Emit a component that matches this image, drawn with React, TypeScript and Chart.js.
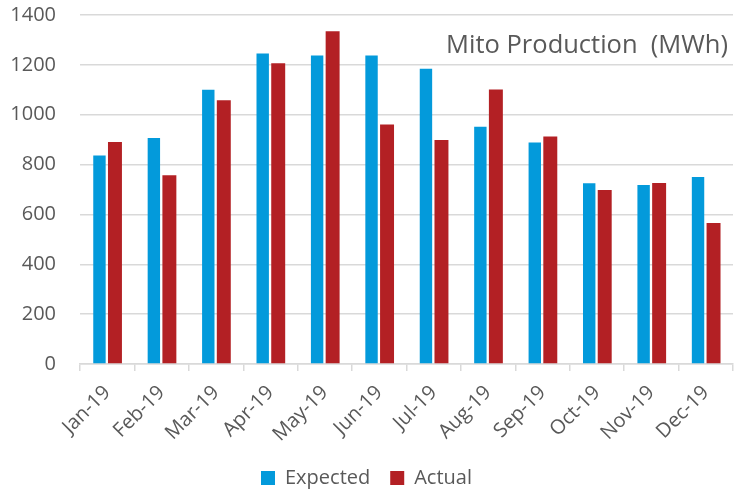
import React, { useEffect, useRef } from "react";
import { Chart, registerables } from "chart.js";

Chart.register(...registerables);

const categories = ["Jan-19", "Feb-19", "Mar-19", "Apr-19", "May-19", "Jun-19", "Jul-19", "Aug-19", "Sep-19", "Oct-19", "Nov-19", "Dec-19"];
const expected = [836, 907, 1100, 1246, 1238, 1238, 1184, 952, 889, 725, 718, 750];
const actual = [891, 757, 1058, 1206, 1335, 961, 899, 1101, 913, 698, 726, 566];
const seriesNames = ["Expected", "Actual"];
const chartTitle = "Mito Production  (MWh)";

const FONT = "'Open Sans', 'DejaVu Sans', sans-serif";
const TEXT = "#595959";
const GRID = "#D9D9D9";

const titlePlugin = {
  id: "insideTitle",
  afterDraw(chart: any) {
    const { ctx, chartArea } = chart;
    ctx.save();
    ctx.font = `25.5px ${FONT}`;
    ctx.fillStyle = TEXT;
    ctx.textAlign = "right";
    ctx.textBaseline = "alphabetic";
    ctx.fillText(chartTitle, chartArea.right - 5, 53);
    ctx.restore();
  },
};

export default function App() {
  const ref = useRef<HTMLCanvasElement>(null);

  useEffect(() => {
    document.body.style.margin = "0";
    const chart = new Chart(ref.current!, {
      type: "bar",
      data: {
        labels: categories,
        datasets: [
          {
            label: seriesNames[0],
            data: expected,
            backgroundColor: "#039ADB",
            categoryPercentage: 0.57,
            barPercentage: 0.8,
          },
          {
            label: seriesNames[1],
            data: actual,
            backgroundColor: "#B32024",
            categoryPercentage: 0.57,
            barPercentage: 0.9,
          },
        ],
      },
      options: {
        responsive: false,
        animation: false,
        devicePixelRatio: 1,
        layout: { padding: { top: 15, right: 1, left: 0, bottom: -8 } },
        plugins: {
          legend: {
            position: "bottom",
            labels: {
              font: { family: FONT, size: 20 },
              color: TEXT,
              boxWidth: 14,
              boxHeight: 14,
              padding: 20,
            },
          },
          tooltip: { enabled: false },
          title: { display: false },
        },
        scales: {
          x: {
            grid: { display: true, drawOnChartArea: false, drawTicks: true, tickLength: 7, color: GRID, lineWidth: 1.5, offset: true },
            border: { display: true, color: GRID, width: 1.5 },
            ticks: {
              font: { family: FONT, size: 20 },
              color: TEXT,
              minRotation: 45,
              maxRotation: 45,
              padding: 10,
            },
            afterFit(scale: any) {
              scale.height = 84;
            },
          },
          y: {
            min: 0,
            max: 1400,
            ticks: {
              stepSize: 200,
              font: { family: FONT, size: 20 },
              color: TEXT,
              padding: 24,
              callback: (v: any) => String(v),
            },
            grid: { color: GRID, lineWidth: 1.5, drawTicks: false },
            border: { display: false },
            afterFit(scale: any) {
              scale.width = 80;
              scale.paddingTop = 0;
              scale.paddingBottom = 0;
            },
          },
        },
      },
      plugins: [titlePlugin],
    } as any);
    return () => chart.destroy();
  }, []);

  return (
    <div style={{ width: 734, height: 490 }}>
      <canvas ref={ref} width={734} height={490} />
    </div>
  );
}
